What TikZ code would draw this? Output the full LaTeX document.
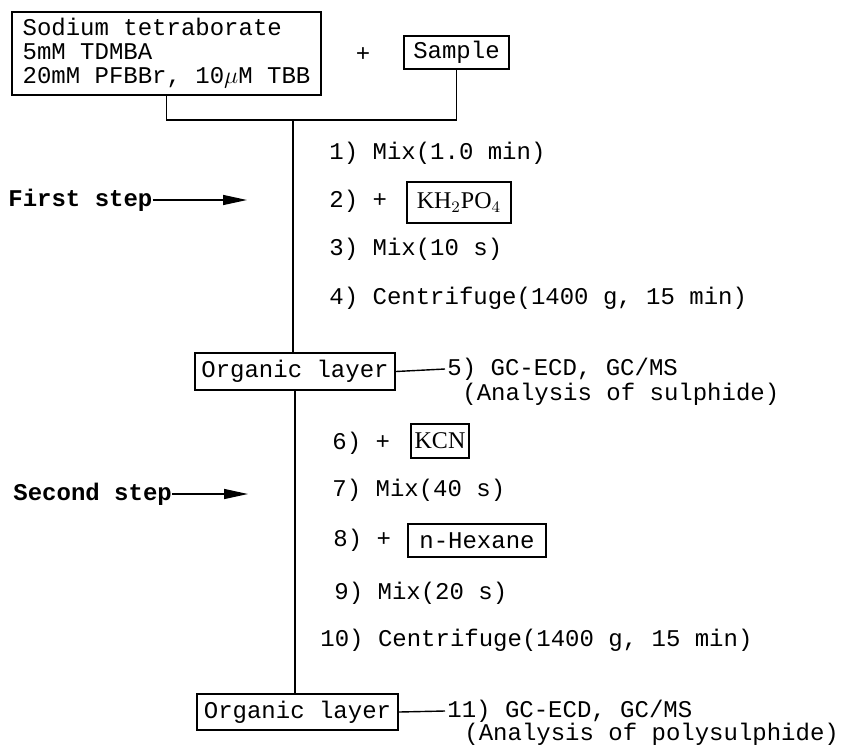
\documentclass[tikz,border=0pt]{standalone}
\usepackage{fontspec}
\setmonofont{Liberation Mono}
\newfontfamily\chemfont{Liberation Serif}
\usetikzlibrary{arrows.meta}
\tikzset{
  reagent/.style={
    draw, line width=1.1pt, inner sep=0pt,
    font=\ttfamily\fontsize{12}{12}\selectfont
  },
  steptext/.style={anchor=west, inner sep=0pt, font=\ttfamily\fontsize{12}{12}\selectfont},
  flowline/.style={line width=0.7pt},
  pointer/.style={-{Triangle[length=12pt, width=5pt]}, line width=0.7pt}
}
\newcommand{\stepnode}[4]{%
  \node[steptext] (#1) at (#2,#3) {#4};%
}

\begin{document}
\begin{tikzpicture}[x=0.5pt, y=-0.5pt]
    \useasboundingbox (0,0) rectangle (841,745);
    % starting solutions
    \node[reagent, align=left, minimum width=154.5pt, minimum height=41.5pt] (buffer) at (166.5,53.5)
         {Sodium tetraborate\\ 5mM TDMBA\\ 20mM PFBBr, 10$\mu$M TBB};
    \node[steptext, anchor=center] (plus) at (363,55) {+};
    \node[reagent, minimum width=52.5pt, minimum height=16.5pt] (sample) at (456.5,52.5) {Sample};
    \coordinate (join) at (293,120);
    % first step
    \stepnode{s1}{329}{153}{1) Mix(1.0 min)}
    \stepnode{s2}{329}{201}{2) +}
    \node[reagent, font=\chemfont\fontsize{12}{12}\selectfont, minimum width=52pt, minimum height=20.5pt] (phosphate) at (459,202.5) {KH$_2$PO$_4$};
    \stepnode{s3}{329}{249}{3) Mix(10 s)}
    \stepnode{s4}{329}{298}{4) Centrifuge(1400 g, 15 min)}
    \node[steptext, font=\ttfamily\bfseries\fontsize{12}{12}\selectfont] (first) at (8,200) {First step};
    \coordinate (firsttip) at (247,200);
    \node[reagent, minimum width=100pt, minimum height=18.5pt] (organic1) at (295,371.5) {Organic layer};
    \stepnode{r5}{447}{369}{5) GC-ECD, GC/MS}
    \stepnode{r5b}{462}{394}{(Analysis of sulphide)}
    % second step
    \stepnode{s6}{332}{443}{6) +}
    \node[reagent, font=\chemfont\fontsize{12}{12}\selectfont, minimum width=29pt, minimum height=17pt] (cyanide) at (440,441) {KCN};
    \stepnode{s7}{332}{490}{7) Mix(40 s)}
    \stepnode{s8}{333}{540}{8) +}
    \node[reagent, minimum width=69pt, minimum height=16.5pt] (hexane) at (477,540.5) {n-Hexane};
    \stepnode{s9}{334}{593}{9) Mix(20 s)}
    \stepnode{s10}{320}{640}{10) Centrifuge(1400 g, 15 min)}
    \node[steptext, font=\ttfamily\bfseries\fontsize{12}{12}\selectfont] (second) at (13,494) {Second step};
    \coordinate (secondtip) at (248,494);
    \node[reagent, minimum width=100.5pt, minimum height=18pt] (organic2) at (297.5,712) {Organic layer};
    \stepnode{r11}{447}{711}{11) GC-ECD, GC/MS}
    \stepnode{r11b}{464}{734}{(Analysis of polysulphide)}
    % connectors
    \draw[flowline] (buffer.south) |- (join) -| (sample.south);
    \draw[flowline] (join) -- (join |- organic1.north);
    \draw[flowline] (organic1.south) -- (organic1.south |- organic2.north);
    \draw[flowline] (organic1.east) -- ([xshift=-1pt]r5.west);
    \draw[flowline] (organic2.east) -- ([xshift=-1pt]r11.west);
    \draw[pointer] (first.east) -- (firsttip);
    \draw[pointer] (second.east) -- (secondtip);
\end{tikzpicture}
\end{document}
